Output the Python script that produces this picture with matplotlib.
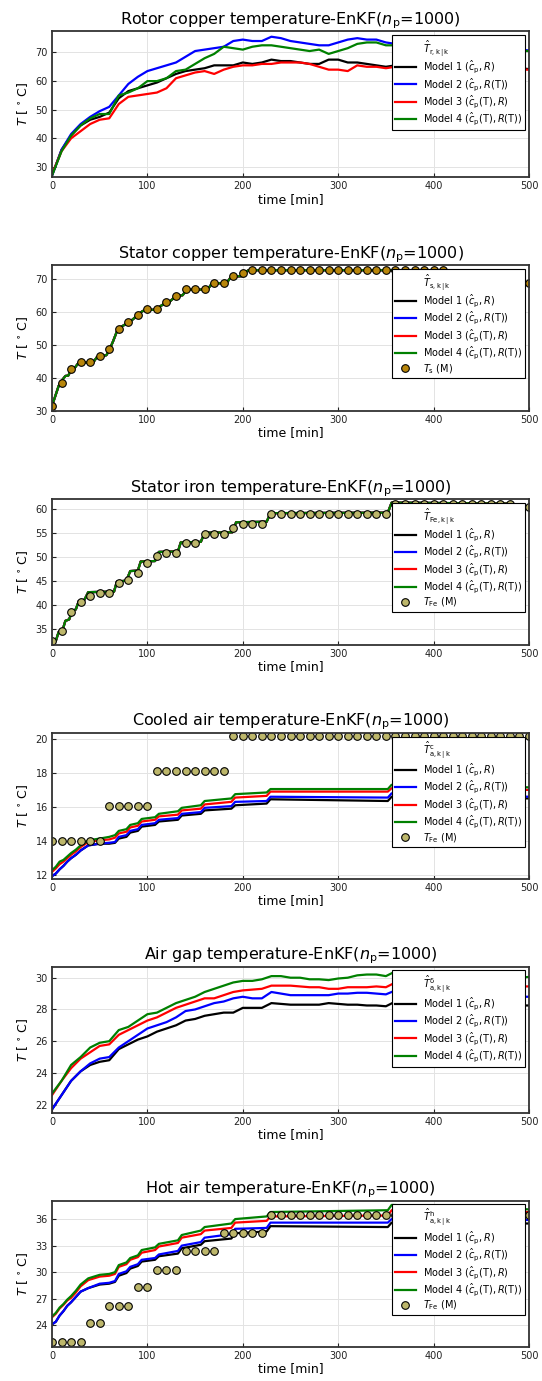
import matplotlib
matplotlib.use('Agg')
import matplotlib.pyplot as plt
import numpy as np

# времена измерений, мин
t_meas = np.arange(0, 501, 10)

# Ротор (медь), шаг 10 мин
rotor_m1 = [27, 36, 41, 44.5, 46.5, 47.5, 49, 54, 56.5, 57.5, 58.5, 59.5, 61, 62.5, 63.5, 64, 64.5, 65.5, 65.5, 65.5,
            66.5, 66, 66.5, 67.5, 67, 67, 66.5, 66, 66, 67.5, 67.5, 66.5, 66.5, 66, 65.5, 65, 65.5,
            65.5, 66, 66, 65.5, 65.5, 65, 65, 65, 64.5, 64.5, 64.5, 64.5, 64.5, 64.2]
rotor_m2 = [27, 36, 41.5, 45, 47.5, 49.5, 51, 55, 59, 61.5, 63.5, 64.5, 65.5, 66.5, 68.5, 70.5, 71, 71.5, 72, 74,
            74.5, 74, 74, 75.5, 75, 74, 73.5, 73, 72.5, 72.5, 73.5, 74.5, 75, 74.5, 74.5, 73.5, 73,
            73.5, 74, 74, 73.5, 73.5, 74, 74.5, 74, 73.5, 73, 72, 71.5, 71, 70.7]
rotor_m3 = [27.5, 35.5, 40, 42.5, 45, 46.5, 47, 52, 54.5, 55, 55.5, 56, 57.5, 61, 62, 63, 63.5, 62.5, 64, 65,
            65.5, 65.5, 66, 66, 66.5, 66.5, 66.5, 66, 65, 64, 64, 63.5, 65.5, 65, 65, 64.5, 65,
            65, 65, 64.5, 64.5, 64.5, 64, 64, 64, 64, 64, 64, 64, 64, 64]
rotor_m4 = [27, 35.5, 41, 44.5, 47, 48.5, 48.5, 55, 56, 57.5, 60, 60, 61, 63.5, 64, 66, 68, 69.5, 72, 71.5,
            71, 72, 72.5, 72.5, 72, 71.5, 71, 70.5, 71, 69.5, 70.5, 71.5, 73, 73.5, 73.5, 72.5, 72.5,
            72.5, 72, 72, 71.5, 71.5, 71, 71, 71, 70.5, 70.5, 70.5, 70.5, 70.5, 70.5]

# Статор (медь): оценка одинакова для всех моделей
t_stator = [0, 3, 7, 10, 14, 17, 20, 23, 27, 33, 43, 47, 53, 57, 60, 64, 68, 72, 77, 82, 86, 90, 95, 100, 107,
            110, 117, 122, 127, 132, 137, 140, 145, 163, 167, 170, 183, 187, 193, 200, 203, 206, 410, 415,
            450, 455, 500]
stator_est = [31.4, 34, 37.5, 39, 40.5, 40.6, 42.3, 42.6, 44.2, 44.6, 44.5, 46.2, 46.6, 46.8, 48.3, 51, 54, 55.3,
              56.2, 57, 58, 59, 60.2, 60.5, 60.6, 61, 62.3, 62.7, 64, 64.8, 65, 66.3, 66.7, 66.7, 68.3, 68.6,
              68.7, 70.3, 70.7, 70.8, 72, 72.6, 72.6, 70.8, 70.8, 68.8, 68.8]
stator_meas = [31.4, 38.4, 42.6, 44.6, 44.6, 46.6, 48.6, 54.8, 56.8, 58.9, 60.9, 60.9, 62.8, 64.8, 66.8, 66.8,
               66.8, 68.8, 68.8, 70.8, 71.6] + [72.8] * 21 + [70.8] * 4 + [68.8] * 5

# Статор (железо)
t_iron = [0, 4, 7, 11, 14, 18, 21, 25, 28, 34, 38, 65, 68, 78, 82, 90, 93, 108, 112, 132, 135, 156, 160, 189,
          193, 225, 229, 352, 356, 480, 485, 500]
iron_est = [32.2, 32.4, 34.3, 34.6, 36.6, 36.9, 38.6, 39, 40.7, 41, 42.6, 42.7, 44.8, 45, 47, 47.1, 49, 49.1,
            51, 51.1, 53, 53.1, 55, 55.1, 57.2, 57.3, 59.1, 59.2, 61.3, 61.1, 60.4, 60.4]
iron_meas = [32.3, 34.5, 38.5, 40.5, 41.8, 42.5, 42.5, 44.6, 45.2, 46.7, 48.7, 50.2, 50.7, 50.7, 52.8, 52.8,
             54.8, 54.8, 54.8, 55.9, 56.8, 56.8, 56.8] + [58.9] * 13 + [61.0] * 13 + [60.3] * 2

# Холодный и горячий воздух (общие моменты времени)
t_air = [0, 4, 8, 12, 16, 20, 25, 30, 38, 50, 60, 66, 70, 78, 82, 90, 94, 108, 112, 132, 136, 156, 160, 188,
         192, 225, 229, 352, 356, 500]
cool_m1 = [11.95, 12.1, 12.35, 12.55, 12.8, 13.0, 13.2, 13.45, 13.75, 13.85, 13.85, 13.9, 14.15, 14.25, 14.5,
           14.6, 14.85, 14.95, 15.15, 15.25, 15.5, 15.6, 15.8, 15.9, 16.1, 16.2, 16.45, 16.35, 16.6, 16.5]
cool_m2 = [11.95, 12.1, 12.35, 12.55, 12.8, 13.0, 13.2, 13.45, 13.75, 13.85, 13.9, 13.95, 14.25, 14.35, 14.6,
           14.7, 14.95, 15.05, 15.25, 15.35, 15.6, 15.7, 15.95, 16.05, 16.3, 16.35, 16.6, 16.55, 16.8, 16.6]
cool_m3 = [12.2, 12.4, 12.65, 12.8, 13.0, 13.2, 13.4, 13.65, 13.95, 14.05, 14.1, 14.2, 14.45, 14.55, 14.8,
           14.9, 15.15, 15.25, 15.45, 15.55, 15.8, 15.9, 16.15, 16.3, 16.55, 16.65, 16.9, 16.9, 17.1, 17.0]
cool_m4 = [12.3, 12.5, 12.8, 12.9, 13.1, 13.3, 13.5, 13.75, 14.05, 14.15, 14.25, 14.35, 14.6, 14.7, 14.95,
           15.05, 15.3, 15.4, 15.6, 15.75, 15.95, 16.1, 16.35, 16.5, 16.75, 16.85, 17.05, 17.05, 17.3, 17.15]
cool_meas = [14.0] * 6 + [16.05] * 5 + [18.1] * 8 + [20.15] * 32

hot_m1 = [24.1, 24.4, 25.1, 25.6, 26.2, 26.6, 27.2, 27.8, 28.2, 28.6, 28.7, 28.9, 29.6, 29.9, 30.4, 30.7, 31.2,
          31.4, 31.8, 32.1, 32.7, 33.1, 33.5, 33.8, 34.4, 34.6, 35.2, 35.1, 35.6, 35.5]
hot_m2 = [24.1, 24.4, 25.1, 25.6, 26.2, 26.6, 27.2, 27.8, 28.2, 28.7, 28.8, 29.0, 29.8, 30.1, 30.6, 30.9, 31.4,
          31.6, 32.0, 32.4, 33.0, 33.4, 33.9, 34.3, 34.9, 35.0, 35.6, 35.6, 36.0, 35.9]
hot_m3 = [24.9, 25.3, 25.9, 26.3, 26.8, 27.1, 27.7, 28.4, 29.1, 29.5, 29.6, 29.8, 30.6, 30.9, 31.4, 31.7, 32.2,
          32.5, 32.9, 33.3, 33.9, 34.3, 34.7, 35.0, 35.6, 35.8, 36.3, 36.4, 37.0, 36.8]
hot_m4 = [25.0, 25.4, 26.0, 26.4, 26.9, 27.3, 27.9, 28.6, 29.3, 29.7, 29.8, 30.0, 30.8, 31.1, 31.6, 31.9, 32.5,
          32.8, 33.2, 33.6, 34.2, 34.7, 35.1, 35.5, 36.0, 36.3, 36.8, 37.0, 37.6, 37.1]
hot_meas = [22.1] * 4 + [24.2] * 2 + [26.2] * 3 + [28.3] * 2 + [30.3] * 3 + [32.4] * 4 + [34.4] * 5 + [36.5] * 28

# Воздушный зазор, шаг 10 мин
gap_m1 = [21.7, 22.6, 23.5, 24.1, 24.5, 24.7, 24.8, 25.5, 25.8, 26.1, 26.3, 26.6, 26.8, 27.0, 27.3, 27.4, 27.6,
          27.7, 27.8, 27.8, 28.1, 28.1, 28.1, 28.4, 28.35, 28.3, 28.3, 28.3, 28.3, 28.4, 28.35, 28.3, 28.3, 28.25,
          28.25, 28.2, 28.5, 28.4, 28.4, 28.4, 28.35, 28.35, 28.3, 28.3, 28.3, 28.3, 28.3, 28.25, 28.25, 28.25, 28.25]
gap_m2 = [21.7, 22.6, 23.5, 24.1, 24.6, 24.9, 25.0, 25.6, 26.0, 26.4, 26.8, 27.0, 27.2, 27.5, 27.9, 28.0, 28.2,
          28.4, 28.5, 28.7, 28.8, 28.7, 28.7, 29.1, 29.0, 28.9, 28.9, 28.9, 28.9, 28.9, 29.0, 29.0, 29.05, 29.05,
          29.0, 28.95, 29.2, 29.1, 29.1, 29.0, 29.0, 29.0, 28.95, 28.9, 28.9, 28.9, 28.85, 28.85, 28.8, 28.8, 28.8]
gap_m3 = [22.6, 23.5, 24.3, 24.9, 25.3, 25.7, 25.8, 26.4, 26.7, 27.0, 27.3, 27.5, 27.8, 28.1, 28.3, 28.5, 28.7,
          28.7, 28.9, 29.1, 29.2, 29.25, 29.3, 29.5, 29.5, 29.5, 29.45, 29.4, 29.4, 29.3, 29.3, 29.4, 29.4, 29.4,
          29.45, 29.4, 29.7, 29.6, 29.6, 29.6, 29.55, 29.55, 29.5, 29.5, 29.5, 29.5, 29.45, 29.45, 29.45, 29.45, 29.45]
gap_m4 = [22.7, 23.5, 24.5, 25.0, 25.6, 25.9, 26.0, 26.7, 26.9, 27.3, 27.7, 27.8, 28.1, 28.4, 28.6, 28.8, 29.1,
          29.3, 29.5, 29.7, 29.8, 29.8, 29.9, 30.1, 30.1, 30.0, 30.0, 29.9, 29.9, 29.85, 29.95, 30.0, 30.15, 30.2,
          30.2, 30.1, 30.4, 30.3, 30.3, 30.2, 30.2, 30.2, 30.1, 30.1, 30.1, 30.1, 30.0, 30.0, 30.0, 30.0, 30.05]

model_labels = [r'Model 1 ($\hat{c}_{\mathrm{p}}, R$)',
                r'Model 2 ($\hat{c}_{\mathrm{p}}, R(\mathrm{T})$)',
                r'Model 3 ($\hat{c}_{\mathrm{p}}(\mathrm{T}), R$)',
                r'Model 4 ($\hat{c}_{\mathrm{p}}(\mathrm{T}), R(\mathrm{T})$)']
model_colors = ['black', 'blue', 'red', 'green']

panels = [
    dict(title='Rotor copper temperature-EnKF($n_{\\mathrm{p}}$=1000)',
         head=r'$\hat{T}_{\mathrm{r,k\,|\,k}}$',
         t=t_meas, est=[rotor_m1, rotor_m2, rotor_m3, rotor_m4], meas=None,
         ylim=(26.5, 77.5), yticks=[30, 40, 50, 60, 70]),
    dict(title='Stator copper temperature-EnKF($n_{\\mathrm{p}}$=1000)',
         head=r'$\hat{T}_{\mathrm{s,k\,|\,k}}$',
         t=t_stator, est=[stator_est] * 4, meas=stator_meas, mlabel=r'$T_{\mathrm{s}}$ (M)',
         mcolor='#B8860B', ylim=(29.9, 74.2), yticks=[30, 40, 50, 60, 70]),
    dict(title='Stator iron temperature-EnKF($n_{\\mathrm{p}}$=1000)',
         head=r'$\hat{T}_{\mathrm{Fe,k\,|\,k}}$',
         t=t_iron, est=[iron_est] * 4, meas=iron_meas, mlabel=r'$T_{\mathrm{Fe}}$ (M)',
         mcolor='#BDB76B', ylim=(31.6, 62.1), yticks=[35, 40, 45, 50, 55, 60]),
    dict(title='Cooled air temperature-EnKF($n_{\\mathrm{p}}$=1000)',
         head=r'$\hat{T}^{\mathrm{c}}_{\mathrm{a,k\,|\,k}}$',
         t=t_air, est=[cool_m1, cool_m2, cool_m3, cool_m4], meas=cool_meas, mlabel=r'$T_{\mathrm{Fe}}$ (M)',
         mcolor='#BDB76B', ylim=(11.8, 20.35), yticks=[12, 14, 16, 18, 20]),
    dict(title='Air gap temperature-EnKF($n_{\\mathrm{p}}$=1000)',
         head=r'$\hat{T}^{\mathrm{\delta}}_{\mathrm{a,k\,|\,k}}$',
         t=t_meas, est=[gap_m1, gap_m2, gap_m3, gap_m4], meas=None,
         ylim=(21.5, 30.7), yticks=[22, 24, 26, 28, 30]),
    dict(title='Hot air temperature-EnKF($n_{\\mathrm{p}}$=1000)',
         head=r'$\hat{T}^{\mathrm{h}}_{\mathrm{a,k\,|\,k}}$',
         t=t_air, est=[hot_m1, hot_m2, hot_m3, hot_m4], meas=hot_meas, mlabel=r'$T_{\mathrm{Fe}}$ (M)',
         mcolor='#BDB76B', ylim=(21.6, 38.1), yticks=[24, 27, 30, 33, 36]),
]

W, H = 542, 1381
fig = plt.figure(figsize=(W / 100, H / 100), dpi=100)

for i, p in enumerate(panels):
    top = 31 + 233.9 * i
    ax = fig.add_axes([52 / W, 1 - (top + 146) / H, 477 / W, 146 / H])

    # пустая линия для заголовка легенды
    ax.plot([], [], color='none', label=p['head'])
    for y, lab, col in zip(p['est'], model_labels, model_colors):
        ax.plot(p['t'], y, color=col, lw=1.6, label=lab)
    if p['meas'] is not None:
        ax.plot(t_meas, p['meas'], 'o', ms=5.5, mfc=p['mcolor'], mec='black', mew=0.8,
                label=p['mlabel'])

    ax.set_xlim(0, 500)
    ax.set_ylim(*p['ylim'])
    ax.set_xticks([0, 100, 200, 300, 400, 500])
    ax.set_yticks(p['yticks'])
    ax.grid(True, color='#e3e3e3', lw=0.7)
    ax.set_axisbelow(True)
    ax.tick_params(direction='in', length=3, width=0.8, labelsize=7, colors='#222222', pad=3)
    for s in ax.spines.values():
        s.set_linewidth(1.3)
        s.set_color('#333333')
    ax.set_title(p['title'], fontsize=11.5, pad=5)
    ax.set_xlabel('time [min]', fontsize=9, labelpad=1)
    ax.set_ylabel(r'$T$ [$\,^\circ\,$C]', fontsize=9, labelpad=4)

    leg = ax.legend(loc='upper right', fontsize=7, framealpha=1, fancybox=False, edgecolor='black',
                    handlelength=2.2, labelspacing=0.08, borderaxespad=0.4, borderpad=0.3,
                    handletextpad=0.7)
    leg.get_frame().set_linewidth(0.8)

fig.savefig('out.png', dpi=100)
